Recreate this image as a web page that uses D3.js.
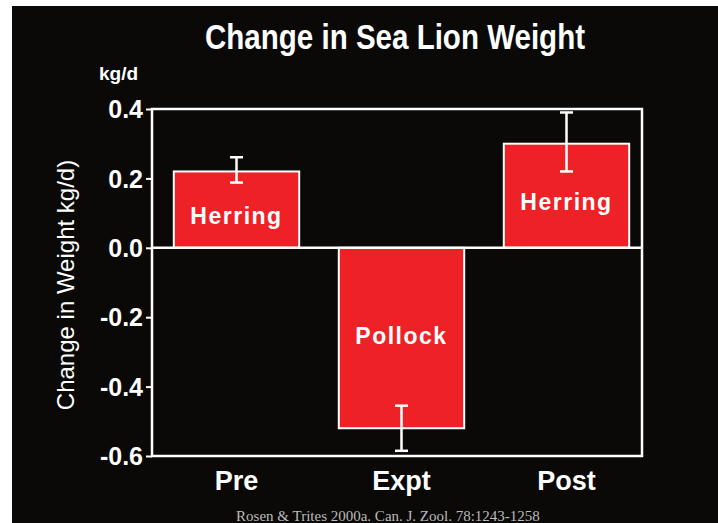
<!DOCTYPE html>
<html>
<head>
<meta charset="utf-8">
<script src="https://cdn.jsdelivr.net/npm/d3@7"></script>
<style>
  html, body { margin: 0; padding: 0; background: #fff; }
  svg { display: block; }
</style>
</head>
<body>
<script>
// data
const categories = ["Pre", "Expt", "Post"];
const diets = ["Herring", "Pollock", "Herring"];
const means = [0.22, -0.52, 0.30];
const errLow = [0.188, -0.585, 0.220];
const errHigh = [0.261, -0.455, 0.390];
const yTicks = [0.4, 0.2, 0.0, -0.2, -0.4, -0.6];

const width = 718, height = 523;
const svg = d3.select("body").append("svg")
    .attr("width", width)
    .attr("height", height);

// black slide on a white page edge
svg.append("rect").attr("width", width).attr("height", height).attr("fill", "#fff");
svg.append("rect").attr("x", 12).attr("y", 6)
    .attr("width", width - 12).attr("height", height - 6).attr("fill", "#0a0908");

const frame = { left: 152, right: 642, top: 109, bottom: 456 };

const y = d3.scaleLinear().domain([-0.6, 0.4]).range([frame.bottom, frame.top]);
const x = d3.scaleBand().domain(categories).range([154, 649]).paddingInner(0.24).paddingOuter(0.12);

const rows = categories.map((c, i) => ({ cat: c, diet: diets[i], v: means[i], lo: errLow[i], hi: errHigh[i] }));

// title
svg.append("text")
    .attr("x", 395).attr("y", 49)
    .attr("text-anchor", "middle")
    .attr("font-family", "'Liberation Sans Narrow', 'Arial Narrow', Arial, sans-serif")
    .attr("font-weight", "bold")
    .attr("font-size", 35)
    .attr("fill", "#fff")
    .attr("textLength", 380)
    .attr("lengthAdjust", "spacingAndGlyphs")
    .text("Change in Sea Lion Weight");

svg.append("text")
    .attr("x", 99).attr("y", 80)
    .attr("font-family", "Arial, 'Liberation Sans', sans-serif")
    .attr("font-weight", "bold")
    .attr("font-size", 19)
    .attr("fill", "#fff")
    .text("kg/d");

// y axis title
svg.append("text")
    .attr("transform", "translate(74,285) rotate(-90)")
    .attr("text-anchor", "middle")
    .attr("font-family", "Arial, 'Liberation Sans', sans-serif")
    .attr("font-size", 24)
    .attr("fill", "#fff")
    .text("Change in Weight kg/d)");

// bars
svg.append("g").selectAll("rect")
    .data(rows)
    .enter().append("rect")
    .attr("x", d => x(d.cat))
    .attr("width", x.bandwidth())
    .attr("y", d => y(Math.max(0, d.v)))
    .attr("height", d => Math.abs(y(d.v) - y(0)))
    .attr("fill", "#ee2226")
    .attr("stroke", "#fff")
    .attr("stroke-width", 2);

// zero line
svg.append("line")
    .attr("x1", frame.left).attr("x2", frame.right)
    .attr("y1", y(0)).attr("y2", y(0))
    .attr("stroke", "#fff").attr("stroke-width", 2.5);

// frame
svg.append("rect")
    .attr("x", frame.left).attr("y", frame.top)
    .attr("width", frame.right - frame.left).attr("height", frame.bottom - frame.top)
    .attr("fill", "none").attr("stroke", "#fff").attr("stroke-width", 2.5);

// error bars
const eb = svg.append("g").attr("stroke", "#fff").attr("stroke-width", 2.5);
rows.forEach(d => {
    const cx = x(d.cat) + x.bandwidth() / 2;
    eb.append("line").attr("x1", cx).attr("x2", cx).attr("y1", y(d.hi)).attr("y2", y(d.lo));
    eb.append("line").attr("x1", cx - 6.5).attr("x2", cx + 6.5).attr("y1", y(d.hi)).attr("y2", y(d.hi));
    eb.append("line").attr("x1", cx - 6.5).attr("x2", cx + 6.5).attr("y1", y(d.lo)).attr("y2", y(d.lo));
});

// diet labels inside bars
svg.append("g").selectAll("text")
    .data(rows)
    .enter().append("text")
    .attr("x", d => x(d.cat) + x.bandwidth() / 2)
    .attr("y", d => y(d.v / 2) + (d.v < 0 ? 6 : 14))
    .attr("text-anchor", "middle")
    .attr("font-family", "Arial, 'Liberation Sans', sans-serif")
    .attr("font-weight", "bold")
    .attr("font-size", 23)
    .attr("letter-spacing", 1.5)
    .attr("fill", "#fff")
    .text(d => d.diet);

// y axis ticks
const yAxis = svg.append("g")
    .attr("transform", `translate(${frame.left},0)`)
    .call(d3.axisLeft(y).tickValues(yTicks).tickFormat(d3.format(".1f")).tickSize(6).tickPadding(3));
yAxis.select(".domain").remove();
yAxis.selectAll("line").attr("stroke", "#fff").attr("stroke-width", 2);
yAxis.selectAll("text")
    .attr("fill", "#fff")
    .attr("font-family", "Arial, 'Liberation Sans', sans-serif")
    .attr("font-weight", "bold")
    .attr("font-size", 25)
    .attr("dy", "0.35em")
    .text(d => d3.format(".1f")(d).replace("−", "-"));

// category labels
const xAxis = svg.append("g")
    .attr("transform", `translate(0,${frame.bottom})`)
    .call(d3.axisBottom(x).tickSize(0).tickPadding(14));
xAxis.select(".domain").remove();
xAxis.selectAll("text")
    .attr("fill", "#fff")
    .attr("font-family", "Arial, 'Liberation Sans', sans-serif")
    .attr("font-weight", "bold")
    .attr("font-size", 27)
    .attr("dy", "0.75em");

// citation, sits on the bottom edge
svg.append("text")
    .attr("x", 388).attr("y", 521)
    .attr("text-anchor", "middle")
    .attr("font-family", "'Liberation Serif', 'Times New Roman', serif")
    .attr("font-size", 15)
    .attr("fill", "#bbb")
    .text("Rosen & Trites 2000a. Can. J. Zool. 78:1243-1258");
</script>
</body>
</html>
